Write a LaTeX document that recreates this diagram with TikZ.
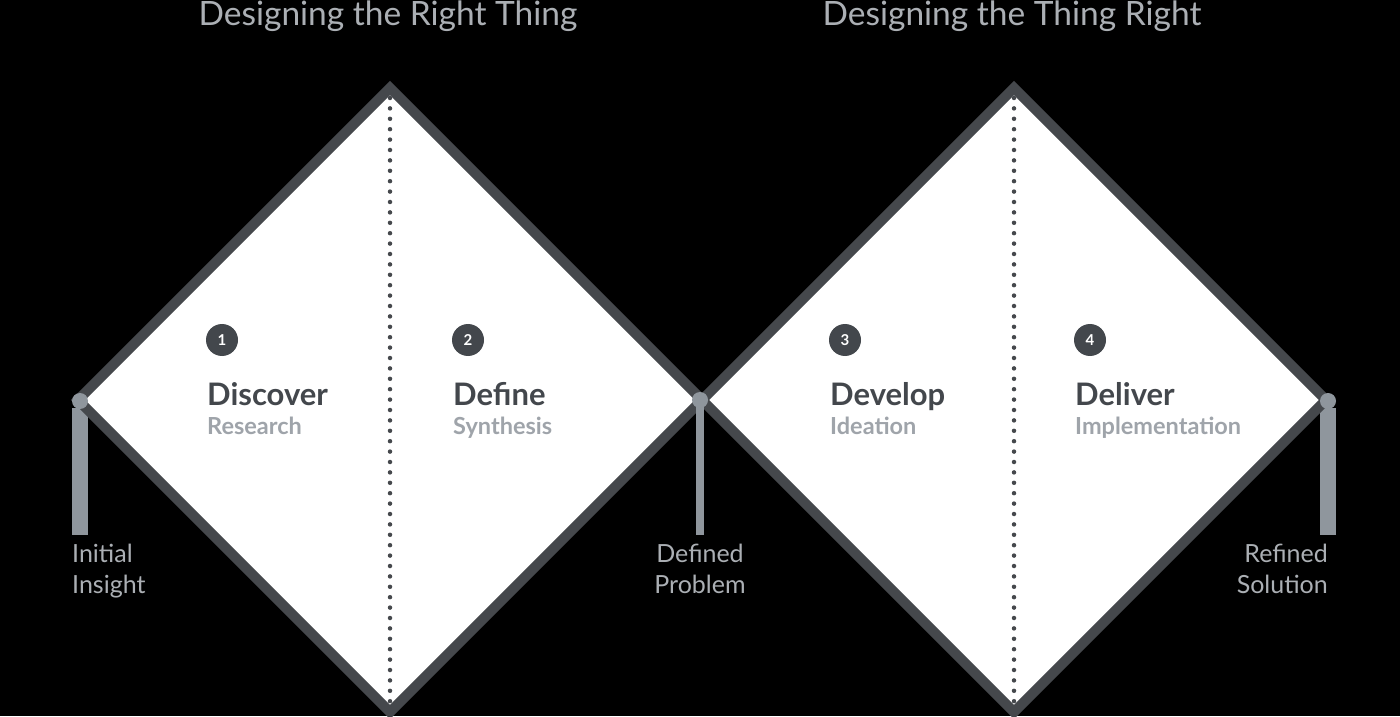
\documentclass[tikz,border=0pt]{standalone}
\usepackage{fontspec}
\setmainfont{Lato}
\definecolor{edge}{HTML}{45484C}
\definecolor{ink}{HTML}{43474C}
\definecolor{soft}{HTML}{9FA4AA}
\definecolor{pincol}{HTML}{8F969D}
\definecolor{pale}{HTML}{ABAFB4}
\tikzset{
  phase/.style={anchor=base west, text=ink, font=\bfseries\fontsize{31}{33}\selectfont, inner sep=0pt},
  method/.style={anchor=base west, text=soft, font=\bfseries\fontsize{23.5}{26}\selectfont, inner sep=0pt},
  num/.style={circle, fill=ink, text=white, minimum size=32pt, inner sep=0pt, font=\bfseries\fontsize{15}{15}\selectfont},
  pinpt/.style={circle, fill=pincol, minimum size=16pt, inner sep=0pt},
  milestone/.style={text=pale, font=\fontsize{25}{31}\selectfont, inner sep=0pt},
  headline/.style={text=pale, font=\fontsize{33.5}{35}\selectfont, anchor=base, inner sep=0pt}
}
\begin{document}
\begin{tikzpicture}[x=1pt,y=1pt]
	\fill[black] (0,0) rectangle (1400,716);
	\useasboundingbox (0,0) rectangle (1400,716);
	
	% outer pins sit behind the diamond edges
	\coordinate (s1) at (80,308);
	\coordinate (s3) at (1328,308);
	\coordinate (e1) at (80,181);
	\coordinate (e2) at (700,181);
	\coordinate (e3) at (1328,181);
	\draw[pincol, line width=16pt] (s1) -- (e1);
	\draw[pincol, line width=16pt] (s3) -- (e3);
	
	% the two diamonds
	\draw[edge, line width=10pt, fill=white] (78,316) -- (390,628) -- (702,316) -- (390,4) -- cycle;
	\draw[edge, line width=10pt, fill=white] (702,316) -- (1014,628) -- (1326,316) -- (1014,4) -- cycle;
	\draw[edge, line width=4.5pt, line cap=round, dash pattern=on 0pt off 10.4pt] (390,618) -- (390,14);
	\draw[edge, line width=4.5pt, line cap=round, dash pattern=on 0pt off 10.4pt] (1014,618) -- (1014,14);
	
	\node[headline] (right) at (388,690) {Designing the Right Thing};
	\node[headline] (thing) at (1012,690) {Designing the Thing Right};
	
	\node[num] (n1) at (222,376) {1};
	\node[phase] (discover) at (207,311) {Discover};
	\node[method] (research) at (207,282) {Research};
	
	\node[num] (n2) at (468,376) {2};
	\node[phase] (define) at (453,311) {Define};
	\node[method] (synthesis) at (453,282) {Synthesis};
	
	\node[num] (n3) at (845,376) {3};
	\node[phase] (develop) at (830,311) {Develop};
	\node[method] (ideation) at (830,282) {Ideation};
	
	\node[num] (n4) at (1090,376) {4};
	\node[phase] (deliver) at (1075,311) {Deliver};
	\node[method] (implementation) at (1075,282) {Implementation};
	
	% pins with their milestones
	\node[pinpt] (p2) at (700,316) {};
	\draw[pincol, line width=8pt] (p2.center) -- (e2);
	\node[pinpt] (p1) at (80,315) {};
	\node[pinpt] (p3) at (1328,315) {};
	
	\node[milestone, align=left, anchor=north west] (insight) at (72,172) {Initial\\Insight};
	\node[milestone, align=center, anchor=north] (problem) at (700,172) {Defined\\Problem};
	\node[milestone, align=right, anchor=north east] (solution) at (1328,172) {Refined\\Solution};
\end{tikzpicture}
\end{document}
